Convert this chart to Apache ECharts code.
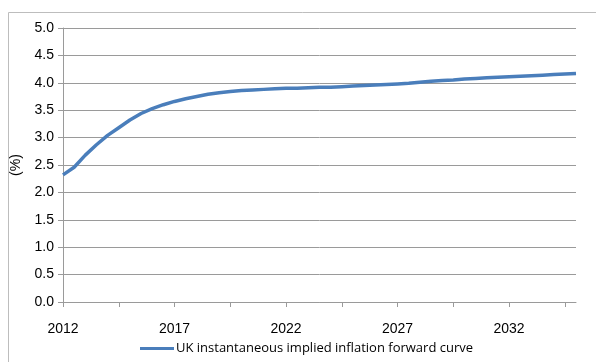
<!DOCTYPE html>
<html>
<head>
    <meta charset="utf-8">
    <title>ECharts</title>
    <script src="https://cdn.jsdelivr.net/npm/echarts@6/dist/echarts.min.js"></script>
    <style>
        html, body { margin: 0; padding: 0; background: #fff; }
    </style>
</head>
<body>
<div id="main" style="width: 596px;height:362px;"></div>
<script type="text/javascript">
    // half-year points, 2012 to 2035
    var years = [];
    for (var y = 2012; y <= 2035; y++) {
        years.push(String(y));
        if (y < 2035) years.push(y + '.5');
    }
    var forwardCurve = [
        2.32, 2.46, 2.68, 2.87, 3.04, 3.18, 3.32, 3.44, 3.53, 3.60,
        3.66, 3.71, 3.75, 3.79, 3.82, 3.84, 3.86, 3.87, 3.88, 3.89,
        3.90, 3.90, 3.91, 3.92, 3.92, 3.93, 3.94, 3.95, 3.96, 3.97,
        3.98, 3.99, 4.01, 4.03, 4.04, 4.05, 4.07, 4.08, 4.09, 4.10,
        4.11, 4.12, 4.13, 4.14, 4.15, 4.16, 4.17
    ];
    var seriesName = 'UK instantaneous implied inflation forward curve';

    var myChart = echarts.init(document.getElementById('main'));
    var option = {
        animation: false,
        textStyle: { fontFamily: 'Liberation Sans' },
        graphic: [{
            type: 'rect',
            shape: { x: 8.5, y: 12.5, width: 700, height: 400 },
            style: { fill: 'none', stroke: '#bdbdbd', lineWidth: 1 }
        }],
        grid: { left: 63, top: 28, right: 20, bottom: 60 },
        legend: {
            data: [seriesName],
            left: 135,
            top: 337,
            itemWidth: 34,
            itemHeight: 3,
            itemGap: 4,
            icon: 'rect',
            textStyle: { fontSize: 13, fontFamily: 'Open Sans', color: '#000', padding: [0, 0, 0, -3] }
        },
        xAxis: {
            type: 'category',
            data: years,
            boundaryGap: false,
            axisLine: { lineStyle: { color: '#9a9a9a', width: 1 } },
            axisTick: { interval: 4, length: 5, lineStyle: { color: '#9a9a9a' } },
            axisLabel: { interval: 9, fontSize: 14, color: '#000', margin: 20 }
        },
        yAxis: {
            type: 'value',
            min: 0,
            max: 5,
            interval: 0.5,
            name: '(%)',
            nameLocation: 'middle',
            nameGap: 38,
            nameRotate: 90,
            nameTextStyle: { fontSize: 14, color: '#000' },
            axisLine: { show: true, lineStyle: { color: '#9a9a9a' } },
            axisTick: { show: true, length: 5, lineStyle: { color: '#9a9a9a' } },
            axisLabel: {
                fontSize: 14, color: '#000', margin: 9,
                formatter: function (v) { return v.toFixed(1); }
            },
            splitLine: { lineStyle: { color: '#9a9a9a', width: 1 } }
        },
        series: [{
            name: seriesName,
            type: 'line',
            data: forwardCurve,
            showSymbol: false,
            smooth: false,
            lineStyle: { color: '#4a7ebb', width: 3.5 },
            itemStyle: { color: '#4a7ebb' }
        }]
    };
    myChart.setOption(option);
</script>
</body>
</html>
